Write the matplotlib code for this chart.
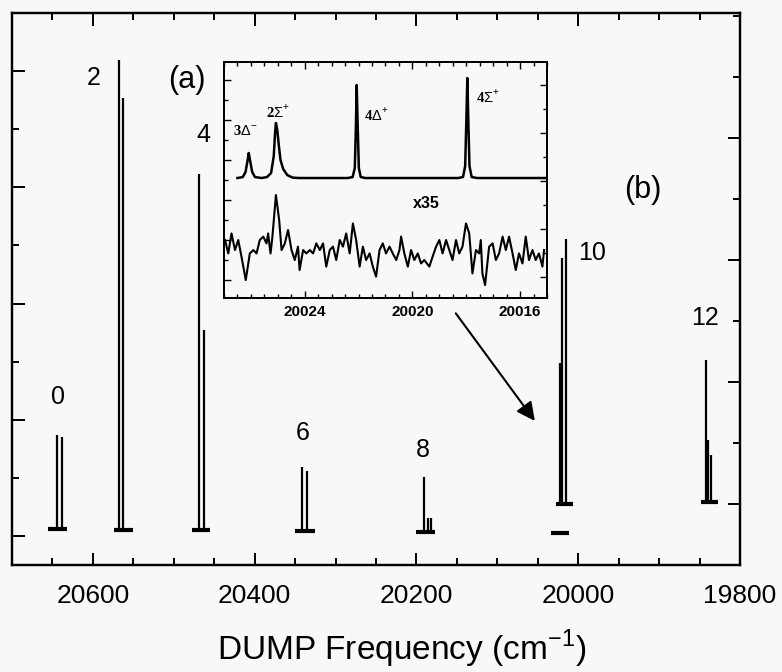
import numpy as np
import matplotlib
matplotlib.use('Agg')
import matplotlib.pyplot as plt
from matplotlib.ticker import MultipleLocator

plt.rcParams['font.family'] = ['Liberation Sans', 'DejaVu Sans']
plt.rcParams['mathtext.fontset'] = 'custom'
plt.rcParams['mathtext.rm'] = 'Liberation Sans'
plt.rcParams['axes.unicode_minus'] = False

BG = '#f8f8f8'

# -----------------------------
# DATA: panel (a) sticks, left scale
# -----------------------------
a_freq = [20644, 20638, 20568, 20562.5, 20468.5, 20462.5,
          20341, 20335, 20191, 20185.5, 20182.5]
a_top = [1.74, 1.70, 8.19, 7.54, 6.23, 3.55,
         1.18, 1.12, 1.02, 0.31, 0.31]
a_base = [0.12, 0.12, 0.10, 0.10, 0.10, 0.10,
          0.09, 0.09, 0.07, 0.07, 0.07]
# baseline segments of each band (lo, hi, level)
a_seg_lo = [20656, 20574, 20478, 20350, 20200, 20034]
a_seg_hi = [20632, 20551, 20455, 20326, 20177, 20011]
a_seg_y = [0.12, 0.10, 0.10, 0.09, 0.07, 0.05]

# panel (b) sticks, right scale
b_freq = [20023, 20020, 20015.5, 19841.5, 19839, 19835.5]
b_top = [2.31, 4.03, 4.34, 2.36, 1.05, 0.80]
b_base = [0.0, 0.0, 0.0, 0.03, 0.03, 0.03]
b_seg_lo = [20027, 19848]
b_seg_hi = [20007, 19827]
b_seg_y = [0.0, 0.03]

band_labels = ['0', '2', '4', '6', '8', '10', '12']
band_lx = [20643, 20599, 20464, 20341, 20192, 19983, 19843]
band_ly = [2.39, 7.88, 6.90, 1.77, 1.48, 4.87, 3.75]

# inset: upper trace (resolved spectrum)
ins_up_x = [20026.5, 20026.3, 20026.2, 20026.12, 20026.08, 20026.02, 20025.95, 20025.85,
            20025.6, 20025.4, 20025.25, 20025.15, 20025.1, 20025.07, 20025.02, 20024.96,
            20024.9, 20024.8, 20024.65, 20024.45, 20024.2,
            20022.4, 20022.22, 20022.14, 20022.1, 20022.07, 20022.03, 20021.99, 20021.92, 20021.75,
            20018.3, 20018.12, 20018.04, 20018.0, 20017.96, 20017.92, 20017.88, 20017.8, 20017.6,
            20015.0]
ins_up_y = [5.10, 5.15, 5.40, 6.00, 6.35, 5.90, 5.40, 5.15,
            5.10, 5.15, 5.35, 6.20, 7.40, 7.85, 7.50, 6.70,
            6.00, 5.55, 5.25, 5.12, 5.10,
            5.10, 5.15, 5.60, 7.60, 9.75, 7.60, 5.60, 5.15, 5.10,
            5.10, 5.15, 5.70, 7.80, 10.10, 7.80, 5.70, 5.15, 5.10,
            5.10]

# inset: lower trace (x35)
ins_lo_x = [20026.96, 20026.84, 20026.72, 20026.59, 20026.47, 20026.35, 20026.19, 20026.04,
            20025.91, 20025.79, 20025.67, 20025.54, 20025.42, 20025.36, 20025.27, 20025.20,
            20025.07, 20024.95, 20024.86, 20024.74, 20024.62, 20024.49, 20024.37, 20024.25,
            20024.19, 20024.06, 20023.94, 20023.81, 20023.69, 20023.57, 20023.44, 20023.32,
            20023.20, 20023.07, 20022.95, 20022.83, 20022.70, 20022.58, 20022.46, 20022.33,
            20022.21, 20022.09, 20021.96, 20021.84, 20021.72, 20021.59, 20021.47, 20021.35,
            20021.22, 20021.10, 20020.98, 20020.85, 20020.73, 20020.60, 20020.48, 20020.42,
            20020.30, 20020.17, 20020.05, 20019.93, 20019.80, 20019.68, 20019.56, 20019.37,
            20019.25, 20019.12, 20019.00, 20018.88, 20018.75, 20018.63, 20018.51, 20018.38,
            20018.26, 20018.14, 20018.01, 20017.89, 20017.77, 20017.64, 20017.52, 20017.46,
            20017.40, 20017.30, 20017.15, 20017.02, 20016.90, 20016.78, 20016.65, 20016.53,
            20016.41, 20016.28, 20016.16, 20016.04, 20015.91, 20015.79, 20015.67, 20015.54,
            20015.42, 20015.30, 20015.17, 20015.11]
ins_lo_y = [2.00, 1.33, 2.33, 1.50, 2.00, 1.17, 0.00, 1.33,
            1.50, 1.33, 2.00, 2.17, 1.83, 2.33, 1.33, 2.17,
            4.25, 3.00, 1.50, 1.83, 2.50, 1.50, 1.00, 1.67,
            0.50, 1.50, 1.33, 1.50, 1.33, 1.83, 1.50, 1.83,
            0.67, 1.50, 1.67, 1.00, 2.00, 1.67, 2.33, 1.33,
            2.83, 2.00, 0.67, 1.67, 1.00, 1.33, 0.67, 0.17,
            1.50, 1.83, 1.33, 1.67, 1.33, 1.00, 1.50, 2.17,
            1.33, 0.67, 1.50, 1.00, 1.33, 0.83, 1.00, 0.67,
            1.17, 1.67, 2.00, 1.33, 2.00, 1.50, 1.00, 2.00,
            1.33, 1.67, 2.83, 2.33, 0.33, 1.50, 1.33, 2.00,
            0.33, -0.25, 1.67, 1.83, 1.00, 1.33, 2.17, 1.50,
            2.17, 1.33, 0.50, 1.33, 0.83, 2.17, 1.00, 1.50,
            1.00, 1.33, 0.67, 1.50]

ins_labels = ['3$\\Delta^{\\mathregular{-}}$', '2$\\Sigma^{\\mathregular{+}}$',
              '4$\\Delta^{\\mathregular{+}}$', '4$\\Sigma^{\\mathregular{+}}$']
ins_lx = [20026.22, 20025.0, 20021.33, 20017.2]
ins_ly = [7.4, 8.4, 8.25, 9.15]

# -----------------------------
# FIGURE
# -----------------------------
fig = plt.figure(figsize=(7.82, 6.72), dpi=100, facecolor=BG)
ax = fig.add_axes([0.0154, 0.1592, 0.9309, 0.8215], facecolor=BG)
axb = ax.twinx()

ax.set_xlim(20700, 19800)
ax.set_ylim(-0.5, 9.0)
axb.set_ylim(-1.0, 8.05)

ax.vlines(a_freq, a_base, a_top, color='black', lw=1.6)
ax.hlines(a_seg_y, a_seg_lo, a_seg_hi, color='black', lw=3)
axb.vlines(b_freq, b_base, b_top, color='black', lw=1.6)
axb.hlines(b_seg_y, b_seg_lo, b_seg_hi, color='black', lw=3)

for lab, lx, ly in zip(band_labels, band_lx, band_ly):
    ax.text(lx, ly, lab, fontsize=18, ha='center', va='center')
ax.text(20484, 7.85, '(a)', fontsize=22, ha='center', va='center')
ax.text(19920, 5.96, '(b)', fontsize=22, ha='center', va='center')

ax.annotate('', xy=(20051.6, 1.94), xytext=(20153.4, 3.87),
            arrowprops=dict(arrowstyle='-|>', color='black', lw=1.5, mutation_scale=28))

# ticks
ax.set_xticks([20600, 20400, 20200, 20000, 19800])
ax.set_xticklabels(['20600', '20400', '20200', '20000', '19800'])
ax.xaxis.set_minor_locator(MultipleLocator(50))
ax.yaxis.set_major_locator(MultipleLocator(2))
ax.yaxis.set_minor_locator(MultipleLocator(1))
ax.tick_params(which='both', direction='in', top=True, right=False, width=1.4)
ax.tick_params(which='major', length=9)
ax.tick_params(which='minor', length=5)
ax.tick_params(axis='x', labelsize=19, pad=14)
ax.tick_params(axis='y', labelleft=False)
axb.set_yticks([0, 2, 4, 6])
axb.set_yticklabels([])
axb.yaxis.set_minor_locator(MultipleLocator(1))
axb.tick_params(which='major', direction='in', length=9, width=1.4)
axb.tick_params(which='minor', direction='in', length=5, width=1.4)
for a in (ax, axb):
    for s in a.spines.values():
        s.set_linewidth(1.6)

ax.set_xlabel('DUMP Frequency (cm$^{\\mathregular{-1}}$)', fontsize=24, va='center')
ax.xaxis.set_label_coords(0.535, -0.152)

# -----------------------------
# INSET
# -----------------------------
axi = fig.add_axes([0.2864, 0.5565, 0.4131, 0.3512], facecolor=BG)
axi.plot(ins_up_x, ins_up_y, color='black', lw=1.8)
axi.plot(ins_lo_x, ins_lo_y, color='black', lw=1.5)
axi.set_xlim(20027, 20015)
axi.set_ylim(-0.9, 10.9)
for lab, lx, ly in zip(ins_labels, ins_lx, ins_ly):
    axi.text(lx, ly, lab, fontsize=10.5, fontweight='bold', ha='center', va='center',
             family=['Liberation Serif', 'DejaVu Serif'])
axi.text(20019.48, 3.85, 'x35', fontsize=11.5, fontweight='bold', ha='center', va='center')

axi.set_xticks([20024, 20020, 20016])
axi.set_xticklabels(['20024', '20020', '20016'], fontweight='bold')
axi.xaxis.set_minor_locator(MultipleLocator(0.5))
axi.yaxis.set_major_locator(MultipleLocator(2))
axi.yaxis.set_minor_locator(MultipleLocator(1))
axi.tick_params(which='both', direction='in', top=True, right=False, width=1.0)
axi.tick_params(which='major', length=5)
axi.tick_params(which='minor', length=3)
axi.tick_params(axis='x', labelsize=11, pad=5)
axi.tick_params(axis='y', labelleft=False)

axi2 = axi.twinx()
axi2.set_ylim(-0.875, 8.96)
axi2.yaxis.set_major_locator(MultipleLocator(2))
axi2.yaxis.set_minor_locator(MultipleLocator(1))
axi2.tick_params(which='both', direction='in', width=1.0, labelright=False)
axi2.tick_params(which='major', length=5)
axi2.tick_params(which='minor', length=3)
for a in (axi, axi2):
    for s in a.spines.values():
        s.set_linewidth(1.4)

fig.savefig('out.png', dpi=100, facecolor=BG)
